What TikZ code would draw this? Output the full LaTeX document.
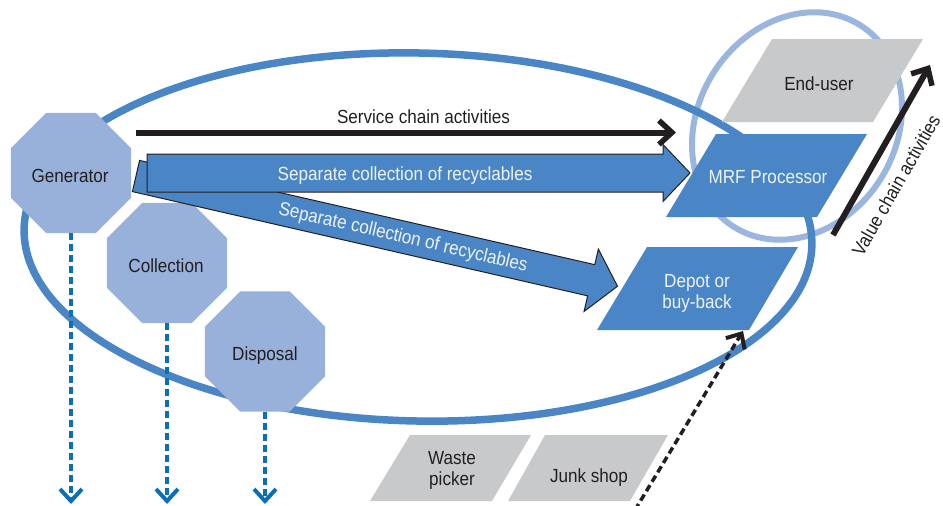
\documentclass[tikz,border=0pt]{standalone}
\usepackage{fontspec}
\setmainfont{Liberation Sans}[FakeStretch=0.9]
\usetikzlibrary{arrows.meta,shapes.geometric,calc}
\definecolor{mainblue}{HTML}{4A86C6}
\definecolor{ringblue}{HTML}{9AB5DE}
\definecolor{octfill}{HTML}{97B1DB}
\definecolor{boxgray}{HTML}{C8C9CB}
\definecolor{dotblue}{HTML}{0A6EB8}
\definecolor{darktext}{HTML}{231F20}
\definecolor{lighttext}{HTML}{EEF3FA}
\begin{document}
\begin{tikzpicture}[x=1pt,y=-1pt,
  lbl/.style={font=\fontsize{19}{21}\selectfont, inner sep=0pt, align=center},
  darklbl/.style={lbl, text=darktext},
  lightlbl/.style={lbl, text=lighttext},
  octa/.style={regular polygon, regular polygon sides=8, minimum size=129.9pt,
    inner sep=0pt, fill=octfill, draw=none},
  bluedash/.style={draw=dotblue, line width=3.5pt, dash pattern=on 7pt off 4pt,
    -{Straight Barb[length=12pt,width=22pt,line width=4pt]}},
  blackdash/.style={draw=darktext, line width=3.5pt, dash pattern=on 7pt off 4pt,
    -{Straight Barb[length=12pt,width=22pt,line width=4pt]}},
  blackarrow/.style={draw=darktext, line width=6pt,
    -{Straight Barb[length=13pt,width=24pt,line width=5.5pt]}},
  blockarrow/.style={fill=mainblue, draw=darktext, line width=1pt, line join=miter},
  bluebox/.style={fill=mainblue},
  graybox/.style={fill=boxgray}]
\useasboundingbox (0,0) rectangle (943,506);

% rings
\draw[ringblue, line width=6pt, rotate around={58:(797,126)}] (797,126) ellipse [x radius=119, y radius=99];
\draw[mainblue, line width=7.5pt, rotate around={-1.2:(418,237)}] (418,237) ellipse [x radius=394, y radius=184];

% octagons
\node[octa] (gen) at (71,173) {};
\node[octa] (coll) at (167,263) {};
\node[octa] (disp) at (265,351.5) {};
\node[darklbl, anchor=base] (genlbl) at (70,182) {Generator};
\node[darklbl, anchor=base] (colllbl) at (166,272) {Collection};
\node[darklbl, anchor=base] (displbl) at (265,360) {Disposal};

% dotted outflows
\coordinate (genout) at (71,504);
\coordinate (collout) at (167,504);
\coordinate (dispout) at (265,504);
\draw[bluedash] (gen.south) -- (genout);
\draw[bluedash] (coll.south) -- (collout);
\draw[bluedash] (disp.south) -- (dispout);

% diagonal block arrow
\begin{scope}[shift={(136,176)}, rotate=-12.9]
  \draw[blockarrow] (0,-16) -- (467,-16) -- (467,-32) -- (494,0) -- (467,32) -- (467,16) -- (0,16) -- cycle;
\end{scope}
\node[lightlbl, rotate=-12.9] (sep2) at (403,238) {Separate collection of recyclables};

% straight block arrow
\draw[blockarrow] (147,154) -- (663,154) -- (663,144.5) -- (690,173) -- (663,201.5) -- (663,192) -- (147,192) -- cycle;
\node[lightlbl, anchor=base] (sep1) at (405,180) {Separate collection of recyclables};

% service chain
\coordinate (svcs) at (136,132.5);
\coordinate (svce) at (676,132.5);
\draw[blackarrow] (svcs) -- (svce);
\node[darklbl, anchor=base] (svclbl) at (423.5,123) {Service chain activities};

% parallelogram boxes
\fill[graybox] (772,39) -- (923,39) -- (873,122) -- (722,122) -- cycle;
\node[darklbl, anchor=base] (enduser) at (819,90) {End-user};
\fill[bluebox] (716,134) -- (867,134) -- (817,217) -- (666,217) -- cycle;
\node[lightlbl, anchor=base] (mrf) at (768,183) {MRF Processor};
\fill[bluebox] (647,247) -- (798,247) -- (749,330) -- (597,330) -- cycle;
\node[lightlbl, anchor=base] (depot) at (697,308) {Depot or\\buy-back};
\fill[graybox] (410,435) -- (531,435) -- (492,501) -- (370,501) -- cycle;
\node[darklbl, anchor=base] (waste) at (452,485) {Waste\\picker};
\fill[graybox] (545,435) -- (668,435) -- (630,501) -- (508,501) -- cycle;
\node[darklbl, anchor=base] (junk) at (589,482) {Junk shop};

% informal flow into depot
\coordinate (infs) at (635,510);
\coordinate (infe) at (743,331);
\draw[blackdash] (infs) -- (infe);

% value chain
\coordinate (vcs) at (833,235);
\coordinate (vce) at (930,65);
\draw[blackarrow] (vcs) -- (vce);
\node[darklbl, rotate=60.3] (vclbl) at (896,185) {Value chain activities};
\end{tikzpicture}
\end{document}
